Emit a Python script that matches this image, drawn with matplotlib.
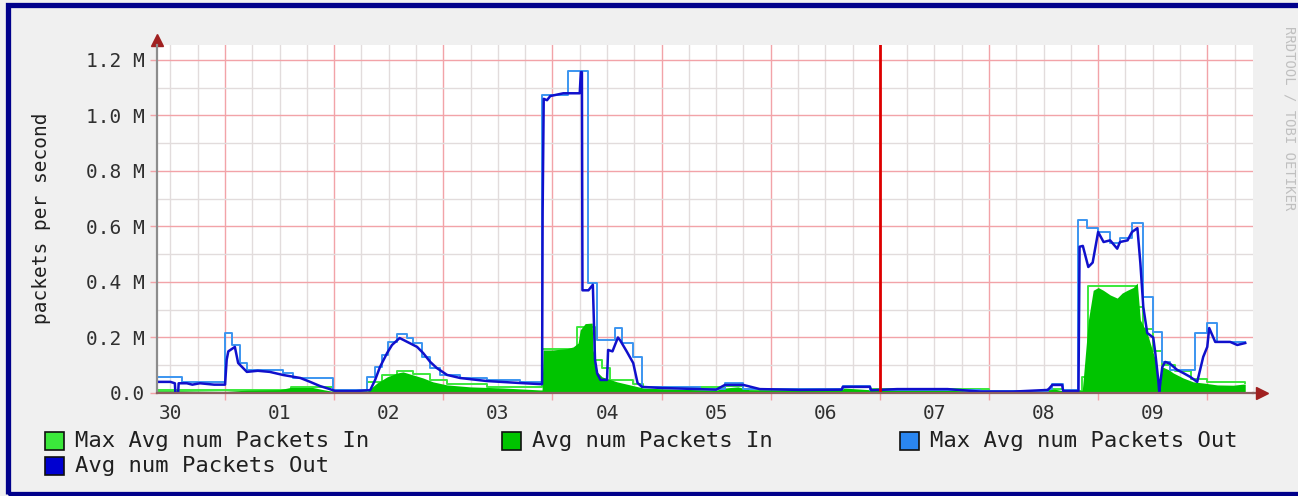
import matplotlib
matplotlib.use("Agg")
import matplotlib.pyplot as plt
import numpy as np
from matplotlib.patches import Rectangle

plt.rcParams['font.family'] = ['DejaVu Sans Mono']

# time axis in days, label "30" sits at the middle of the first day
day_labels = ["30", "01", "02", "03", "04", "05", "06", "07", "08", "09"]
label_pos = np.arange(0.5, 10.5, 1.0)

# Avg num Packets Out (millions)
out_t = [0.377, 0.50, 0.54, 0.545, 0.57, 0.575, 0.65, 0.70, 0.77, 0.90, 1.00, 1.015, 1.03, 1.09,
         1.12, 1.20, 1.30, 1.41, 1.53, 1.69, 1.78, 1.87, 1.96, 2.01, 2.20, 2.33, 2.375, 2.42,
         2.485, 2.53, 2.60, 2.67, 2.76, 2.815, 2.88, 2.94, 3.035, 3.154, 3.40, 3.70, 3.886,
         3.905, 3.91, 3.92, 3.95, 3.98, 4.10, 4.25, 4.26, 4.27, 4.275, 4.33, 4.37, 4.39, 4.41,
         4.44, 4.50, 4.51, 4.55, 4.60, 4.62, 4.68, 4.74, 4.78, 4.82, 5.0, 5.5, 5.58, 5.75, 5.90,
         6.27, 6.65, 6.66, 6.91, 6.92, 7.16, 7.62, 7.92, 8.22, 8.54, 8.58, 8.67, 8.68, 8.82,
         8.83, 8.86, 8.91, 8.95, 9.00, 9.05, 9.11, 9.175, 9.20, 9.27, 9.31, 9.36, 9.387, 9.414,
         9.45, 9.505, 9.524, 9.551, 9.56, 9.588, 9.615, 9.66, 9.725, 9.78, 9.844, 9.908, 9.963,
         10.00, 10.018, 10.073, 10.21, 10.275, 10.348]
out_v = [0.040, 0.040, 0.035, 0.000, 0.000, 0.035, 0.035, 0.030, 0.035, 0.030, 0.030, 0.120, 0.150,
         0.166, 0.108, 0.076, 0.080, 0.076, 0.065, 0.054, 0.040, 0.025, 0.014, 0.007, 0.007, 0.010,
         0.047, 0.094, 0.144, 0.173, 0.198, 0.184, 0.166, 0.144, 0.112, 0.090, 0.065, 0.054, 0.043,
         0.036, 0.032, 0.032, 0.650, 1.060, 1.055, 1.070, 1.080, 1.080, 1.156, 1.156, 0.370, 0.370,
         0.390, 0.120, 0.070, 0.047, 0.047, 0.155, 0.150, 0.200, 0.190, 0.150, 0.108, 0.036, 0.022,
         0.018, 0.012, 0.029, 0.029, 0.014, 0.011, 0.012, 0.022, 0.022, 0.010, 0.014, 0.014, 0.005,
         0.005, 0.011, 0.029, 0.029, 0.007, 0.007, 0.527, 0.530, 0.454, 0.470, 0.580, 0.544, 0.550,
         0.520, 0.544, 0.550, 0.580, 0.594, 0.468, 0.310, 0.216, 0.200, 0.144, 0.047, 0.004, 0.094,
         0.112, 0.105, 0.083, 0.072, 0.058, 0.040, 0.130, 0.166, 0.234, 0.184, 0.184, 0.173, 0.180]

# Max Avg num Packets Out (step values)
max_out_t = [0.377, 0.606, 1.000, 1.064, 1.137, 1.202, 1.532, 1.624, 1.990, 2.301, 2.375, 2.439,
             2.494, 2.577, 2.668, 2.723, 2.806, 2.879, 2.970, 3.154, 3.400, 3.700, 3.905, 4.144,
             4.327, 4.409, 4.574, 4.639, 4.739, 4.821, 5.350, 5.582, 5.750, 6.270, 6.663, 6.910,
             7.920, 8.540, 8.580, 8.680, 8.818, 8.900, 9.000, 9.112, 9.203, 9.313, 9.414, 9.505,
             9.588, 9.661, 9.890, 10.000, 10.092, 10.348]
max_out_v = [0.058, 0.040, 0.216, 0.173, 0.108, 0.083, 0.072, 0.054, 0.011, 0.058, 0.094, 0.137,
             0.184, 0.212, 0.198, 0.180, 0.130, 0.090, 0.065, 0.054, 0.045, 0.038, 1.073, 1.160,
             0.396, 0.190, 0.234, 0.180, 0.130, 0.022, 0.014, 0.036, 0.016, 0.013, 0.026, 0.012,
             0.007, 0.013, 0.034, 0.009, 0.623, 0.594, 0.580, 0.540, 0.560, 0.612, 0.346, 0.220,
             0.112, 0.083, 0.216, 0.252, 0.184, 0.184]

# Avg num Packets In
in_t = [0.377, 0.60, 1.0, 1.2, 1.5, 1.6, 1.8, 1.9, 2.0, 2.30, 2.393, 2.485, 2.577, 2.631, 2.723,
        2.815, 2.906, 3.035, 3.246, 3.548, 3.886, 3.905, 3.914, 4.00, 4.135, 4.19, 4.235, 4.254,
        4.30, 4.364, 4.372, 4.409, 4.455, 4.593, 4.712, 4.831, 5.014, 5.5, 5.58, 5.70, 5.80, 6.5,
        6.66, 6.90, 7.2, 7.6, 8.0, 8.5, 8.6, 8.7, 8.855, 8.864, 8.91, 8.955, 9.001, 9.048, 9.112,
        9.175, 9.22, 9.267, 9.322, 9.359, 9.387, 9.45, 9.505, 9.524, 9.542, 9.56, 9.588, 9.65,
        9.689, 9.78, 9.872, 9.963, 10.092, 10.238, 10.33, 10.348]
in_v = [0.008, 0.008, 0.006, 0.010, 0.012, 0.020, 0.020, 0.012, 0.005, 0.005, 0.036, 0.058, 0.072,
        0.076, 0.065, 0.054, 0.040, 0.029, 0.022, 0.018, 0.011, 0.011, 0.155, 0.155, 0.160, 0.166,
        0.180, 0.227, 0.250, 0.252, 0.155, 0.076, 0.058, 0.040, 0.029, 0.018, 0.015, 0.010, 0.018,
        0.022, 0.012, 0.010, 0.018, 0.012, 0.012, 0.010, 0.005, 0.008, 0.014, 0.006, 0.010, 0.050,
        0.260, 0.370, 0.380, 0.370, 0.353, 0.342, 0.360, 0.370, 0.380, 0.396, 0.263, 0.216, 0.144,
        0.120, 0.058, 0.000, 0.094, 0.083, 0.072, 0.054, 0.040, 0.036, 0.029, 0.028, 0.032, 0.032]

# Max Avg num Packets In (step values)
max_in_t = [0.377, 1.6, 1.99, 2.30, 2.44, 2.577, 2.723, 2.88, 3.035, 3.4, 3.905, 4.226, 4.391,
            4.455, 4.529, 4.74, 4.83, 5.58, 5.75, 6.66, 6.91, 8.0, 8.58, 8.68, 8.855, 8.91, 9.359,
            9.414, 9.505, 9.588, 9.70, 9.85, 10.0, 10.348]
max_in_v = [0.010, 0.022, 0.008, 0.040, 0.065, 0.080, 0.068, 0.045, 0.032, 0.022, 0.160, 0.238,
            0.120, 0.090, 0.045, 0.032, 0.020, 0.024, 0.014, 0.020, 0.014, 0.008, 0.016, 0.008,
            0.058, 0.385, 0.310, 0.230, 0.150, 0.100, 0.080, 0.050, 0.040, 0.036]

y_ticks = [0.0, 0.2, 0.4, 0.6, 0.8, 1.0, 1.2]

c_max_in = '#3be83b'
c_avg_in = '#00c400'
c_max_out = '#3b95f0'
c_avg_out = '#1010cc'
c_major = '#f2a3a8'
c_minor = '#e2dcdc'

fig = plt.figure(figsize=(12.98, 4.96), dpi=100)
fig.patch.set_facecolor('#f0f0f0')
ax = fig.add_axes([0.121, 0.2077, 0.8444, 0.7016])
ax.set_facecolor('white')

ax.set_xlim(0.377, 10.42)
ax.set_ylim(0, 1.254)

# grid: 6h minor, 24h major; 0.1M minor, 0.2M major
for q in np.arange(0.5, 10.42, 0.25):
    major = abs(q - round(q)) < 1e-6
    ax.axvline(q, color=c_major if major else c_minor, lw=1.0, zorder=0.5)
for v in np.arange(0.1, 1.26, 0.1):
    major = abs(v / 0.2 - round(v / 0.2)) < 1e-6
    ax.axhline(v, color=c_major if major else c_minor, lw=1.0, zorder=0.5)

ax.plot(max_in_t, max_in_v, drawstyle='steps-post', color=c_max_in, lw=1.4, zorder=2)
ax.fill_between(in_t, 0, in_v, color=c_avg_in, lw=0, zorder=3)
ax.plot(max_out_t, max_out_v, drawstyle='steps-post', color=c_max_out, lw=1.4, zorder=4)
ax.plot(out_t, out_v, color=c_avg_out, lw=1.8, zorder=5)

ax.axvline(7.0, color='#dd0000', lw=2.0, zorder=6)

ax.set_xticks(label_pos, day_labels)
ax.tick_params(axis='x', which='major', length=0, pad=8, labelsize=14, labelcolor='#303030')
ax.set_xticks(np.arange(1, 11), minor=True)
ax.tick_params(axis='x', which='minor', length=5, color=c_major, width=1)

ax.set_yticks(y_ticks, ["0.0"] + [f"{v:.1f} M" for v in y_ticks[1:]])
ax.tick_params(axis='y', length=5, color=c_major, width=1, pad=4, labelsize=14,
               labelcolor='#303030')

for s in ['top', 'right']:
    ax.spines[s].set_visible(False)
ax.spines['left'].set_color('#8c8c8c')
ax.spines['left'].set_linewidth(1.6)
ax.spines['bottom'].set_color('#8c6060')
ax.spines['bottom'].set_linewidth(1.6)
ax.spines['left'].set_zorder(7)
ax.spines['bottom'].set_zorder(7)

# axis arrows
ax.plot([1.0, 1.006], [0, 0], transform=ax.transAxes, color='#8c6060', lw=1.6, clip_on=False)
ax.plot([1.008], [0], marker='>', ms=8, color='#a02020', transform=ax.transAxes, clip_on=False)
ax.plot([0], [1.013], marker='^', ms=8, color='#a02020', transform=ax.transAxes, clip_on=False)

fig.text(42 / 1298, 1 - 218 / 496, "packets per second", rotation=90, ha='center', va='center',
         fontsize=14, color='#202020')
fig.text(1289 / 1298, 1 - 118 / 496, "RRDTOOL / TOBI OETIKER", rotation=270, ha='center',
         va='center', fontsize=10, color='#c0c0c0')

# legend
legend_items = [("Max Avg num Packets In", c_max_in, 45, 441),
                ("Avg num Packets In", c_avg_in, 502, 441),
                ("Max Avg num Packets Out", '#2a86f0', 900, 441),
                ("Avg num Packets Out", '#0000d0', 45, 466)]
for label, col, px, py in legend_items:
    fig.patches.append(Rectangle((px / 1298, 1 - (py + 9) / 496), 19 / 1298, 18 / 496,
                                 transform=fig.transFigure, facecolor=col, edgecolor='#101010',
                                 lw=1.2))
    fig.text((px + 30) / 1298, 1 - py / 496, label, ha='left', va='center', fontsize=16,
             color='#202020')

fig.patches.append(Rectangle((0.0058, 0.004), 1.1, 0.985, transform=fig.transFigure,
                             fill=False, edgecolor='#00008b', lw=3.8))

fig.savefig("out.png", dpi=100, facecolor=fig.get_facecolor())
